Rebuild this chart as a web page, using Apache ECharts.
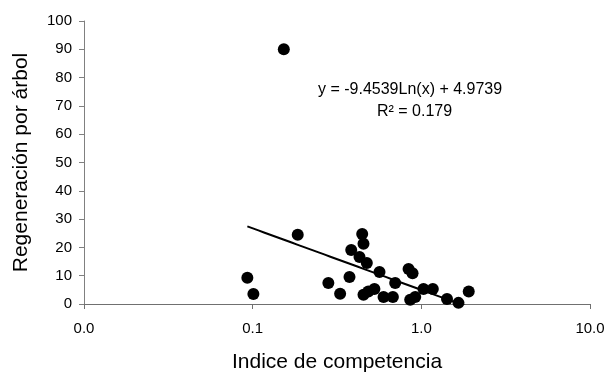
<!DOCTYPE html>
<html>
<head>
<meta charset="utf-8">
<script src="https://cdn.jsdelivr.net/npm/echarts@6/dist/echarts.min.js"></script>
<style>
  html, body { margin: 0; padding: 0; background: #fff; }
  #chart { width: 608px; height: 377px; }
</style>
</head>
<body>
<div id="chart"></div>
<script>
// indice de competencia (x) y regeneracion por arbol (y)
var competencia = [0.093, 0.101, 0.153, 0.185, 0.446, 0.454, 0.384, 0.430, 0.475, 0.565,
                   0.840, 0.887, 0.281, 0.375, 0.330, 0.454, 0.485, 0.527, 0.597, 0.678,
                   0.700, 0.859, 0.920, 1.03, 1.17, 1.42, 1.66, 1.91];
var regeneracion = [9.3, 3.5, 90, 24.5, 24.7, 21.3, 19.1, 16.6, 14.5, 11.3,
                    12.4, 10.9, 7.4, 9.5, 3.6, 3.3, 4.4, 5.3, 2.5, 2.5,
                    7.4, 1.5, 2.5, 5.3, 5.3, 1.8, 0.4, 4.4];
// y = a*Ln(x) + b  (linea de tendencia de la figura)
var trendCoef = [-9.4539, 4.9739];
var trendText = ['y = -9.4539Ln(x) + 4.9739', 'R² = 0.179'];

var chart = echarts.init(document.getElementById('chart'));

var points = competencia.map(function (x, i) { return [x, regeneracion[i]]; });

var xMin = Math.min.apply(null, competencia), xMax = Math.max.apply(null, competencia);
var trend = [];
for (var k = 0; k <= 40; k++) {
    var x = xMin * Math.pow(xMax / xMin, k / 40);
    trend.push([x, trendCoef[0] * Math.log(x) + trendCoef[1]]);
}

var font = 'Liberation Sans, Arial, sans-serif';

var option = {
    backgroundColor: '#fff',
    textStyle: { fontFamily: font },
    grid: { left: 84, right: 18, top: 21, bottom: 73, outerBoundsMode: 'none' },
    xAxis: {
        type: 'log',
        logBase: 10,
        min: 0.01,
        max: 10,
        name: 'Indice de competencia',
        nameLocation: 'middle',
        nameGap: 48,
        nameTextStyle: { fontSize: 21, color: '#000' },
        axisLine: { lineStyle: { color: '#707070', width: 1 } },
        axisTick: { show: true, length: 5, lineStyle: { color: '#707070' } },
        minorTick: { show: false },
        axisLabel: {
            fontSize: 15, color: '#000', margin: 17,
            formatter: function (v) { return Number(v).toFixed(1); }
        },
        splitLine: { show: false }
    },
    yAxis: {
        type: 'value',
        min: 0,
        max: 100,
        interval: 10,
        name: 'Regeneración por árbol',
        nameLocation: 'middle',
        nameGap: 52,
        nameTextStyle: { fontSize: 21, color: '#000' },
        axisLine: { show: true, lineStyle: { color: '#808080', width: 1 } },
        axisTick: { show: true, length: 5, lineStyle: { color: '#808080' } },
        axisLabel: { fontSize: 15, color: '#000', margin: 12 },
        splitLine: { show: false }
    },
    series: [
        {
            type: 'scatter',
            data: points,
            symbolSize: 12,
            itemStyle: { color: '#000', opacity: 1 },
            z: 3
        },
        {
            type: 'line',
            data: trend,
            showSymbol: false,
            clip: true,
            lineStyle: { color: '#000', width: 2 },
            z: 2,
            silent: true
        }
    ],
    graphic: [
        {
            type: 'text', left: 318, top: 82,
            style: { text: trendText[0], fontSize: 16, fill: '#000', fontFamily: font }
        },
        {
            type: 'text', left: 377, top: 104,
            style: { text: trendText[1], fontSize: 16, fill: '#000', fontFamily: font }
        }
    ],
    animation: false
};

chart.setOption(option);
</script>
</body>
</html>
